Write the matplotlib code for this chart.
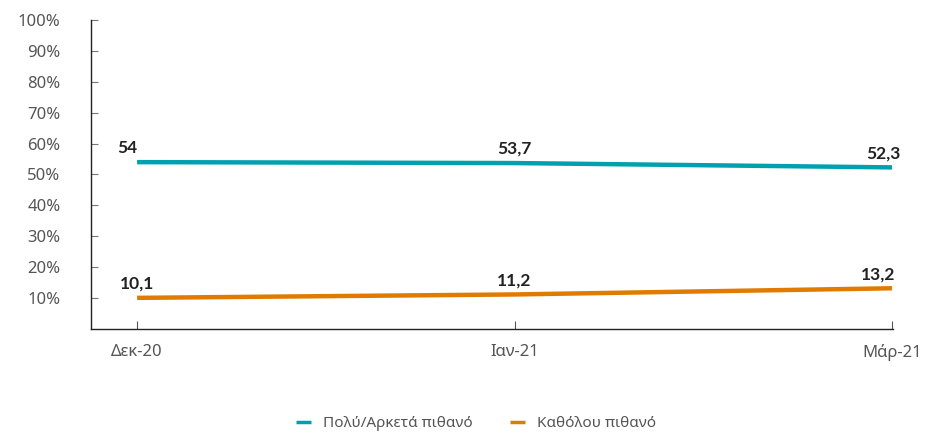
import matplotlib
matplotlib.use("Agg")
import matplotlib.pyplot as plt

plt.rcParams["font.family"] = ["Noto Sans", "DejaVu Sans"]

months = ["Δεκ-20", "Ιαν-21", "Μάρ-21"]
very_likely = [54, 53.7, 52.3]
not_likely = [10.1, 11.2, 13.2]
series_names = ["Πολύ/Αρκετά πιθανό", "Καθόλου πιθανό"]
colors = ["#00A0AF", "#E07B00"]
yticks = [10, 20, 30, 40, 50, 60, 70, 80, 90, 100]

# horizontal nudges (points) for the value labels of each series
label_dx = [[-7, 0, -6], [0, 0, -10]]


def fmt(v):
    s = f"{v:g}"
    return s.replace(".", ",")


fig = plt.figure(figsize=(9.29, 4.33), dpi=100)
ax = fig.add_axes([0.098, 0.240, 0.863, 0.714])

x = list(range(len(months)))
for k, (vals, name, c) in enumerate(zip([very_likely, not_likely], series_names, colors)):
    ax.plot(x, vals, color=c, linewidth=3.2, label=name, solid_capstyle="butt")
    for i, v in zip(x, vals):
        ax.annotate(fmt(v), (i, v), xytext=(label_dx[k][i], 4.5), textcoords="offset points",
                    ha="center", va="bottom", fontsize=12.5, fontweight="bold",
                    family=["Lato", "DejaVu Sans"], color="#222222")

ax.set_xlim(-0.122, 2.002)
ax.set_ylim(0, 100)
ax.set_xticks(x)
ax.set_xticklabels(months)
ax.set_yticks(yticks)
ax.set_yticklabels([f"{t}%" for t in yticks])

ax.spines["top"].set_visible(False)
ax.spines["right"].set_visible(False)
for s in ["left", "bottom"]:
    ax.spines[s].set_color("#222222")
    ax.spines[s].set_linewidth(1.0)

ax.tick_params(axis="y", direction="in", length=5, color="#777777", labelsize=12,
               labelcolor="#555555", pad=22)
ax.tick_params(axis="x", direction="in", length=6, color="#555555", labelsize=12,
               labelcolor="#555555", pad=11)

ax.legend(loc="upper center", bbox_to_anchor=(0.48, -0.238), ncol=2, frameon=False,
          fontsize=11, handlelength=1.0, columnspacing=2.4, handletextpad=0.8,
          labelcolor="#555555")
for line in ax.get_legend().get_lines():
    line.set_linewidth(2.5)

fig.savefig("out.png", dpi=100)
